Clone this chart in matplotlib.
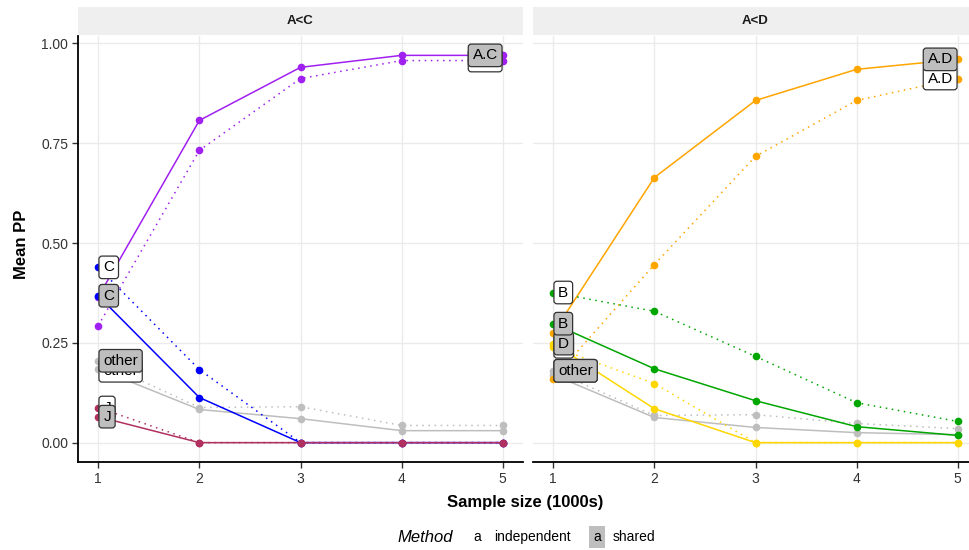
import matplotlib
matplotlib.use("Agg")
import matplotlib.pyplot as plt
from matplotlib.patches import Rectangle

plt.rcParams['font.family'] = ['Liberation Sans', 'DejaVu Sans']

# ---------------- data ----------------
sample_size = [1, 2, 3, 4, 5]
panels = ["A<C", "A<D"]

# panel A<C
AC_shared = [0.365, 0.807, 0.940, 0.970, 0.970]
AC_indep = [0.293, 0.732, 0.912, 0.957, 0.957]
C_shared = [0.368, 0.113, 0.0, 0.0, 0.0]
C_indep = [0.439, 0.183, 0.0, 0.0, 0.0]
otherC_shared = [0.185, 0.083, 0.060, 0.030, 0.030]
otherC_indep = [0.205, 0.088, 0.090, 0.043, 0.043]
J_shared = [0.065, 0.0, 0.0, 0.0, 0.0]
J_indep = [0.088, 0.0, 0.0, 0.0, 0.0]

# panel A<D
AD_shared = [0.275, 0.664, 0.857, 0.935, 0.960]
AD_indep = [0.160, 0.446, 0.717, 0.857, 0.912]
B_shared = [0.298, 0.185, 0.105, 0.040, 0.018]
B_indep = [0.376, 0.329, 0.216, 0.100, 0.053]
D_shared = [0.248, 0.085, 0.0, 0.0, 0.0]
D_indep = [0.240, 0.148, 0.0, 0.0, 0.0]
otherD_shared = [0.170, 0.063, 0.038, 0.025, 0.020]
otherD_indep = [0.180, 0.068, 0.070, 0.048, 0.035]

# (label, colour, independent values, shared values, label side)
series = {
    "A<C": [
        ("other", "#BEBEBE", otherC_indep, otherC_shared, "left"),
        ("A.C", "#A020F0", AC_indep, AC_shared, "right"),
        ("C", "#0000FF", C_indep, C_shared, "left"),
        ("J", "#B03060", J_indep, J_shared, "left"),
    ],
    "A<D": [
        ("other", "#BEBEBE", otherD_indep, otherD_shared, "left"),
        ("A.D", "#FFA500", AD_indep, AD_shared, "right"),
        ("D", "#FFD700", D_indep, D_shared, "left"),
        ("B", "#00A600", B_indep, B_shared, "left"),
    ],
}
# label vertical nudges (pixels) for repelled labels: (indep, shared)
nudges = {("A<C", "other"): (-10, 8), ("A<D", "other"): (0, 4)}

yticks = [0.0, 0.25, 0.50, 0.75, 1.00]
ytick_labels = ["0.00", "0.25", "0.50", "0.75", "1.00"]

# ---------------- figure ----------------
W, H = 969, 550
fig = plt.figure(figsize=(W / 100, H / 100), dpi=100)
fig.patch.set_facecolor("white")


def px_axes(x0, y0, x1, y1):
    return fig.add_axes([x0 / W, 1 - y1 / H, (x1 - x0) / W, (y1 - y0) / H])


panel_px = {"A<C": (78, 523), "A<D": (533, 978)}
top, bottom = 36, 462
grid_col = "#EBEBEB"

for pi, name in enumerate(panels):
    x0, x1 = panel_px[name]
    # strip
    sax = px_axes(x0, 7, x1, 35)
    sax.set_xlim(0, 1); sax.set_ylim(0, 1)
    sax.add_patch(Rectangle((0, 0), 1, 1, facecolor="#EFEFEF", edgecolor="none"))
    sax.axis("off")
    sax.text(0.5, 0.5, name, ha="center", va="center",
             fontsize=9.5, fontweight="bold", color="#1A1A1A")

    ax = px_axes(x0, top, x1, bottom)
    ax.set_xlim(0.8, 5.2)
    ax.set_ylim(-0.0485, 1.0185)
    ax.set_facecolor("white")
    ax.set_yticks(yticks)
    ax.set_xticks(sample_size)
    ax.grid(True, color=grid_col, lw=1.0)
    ax.set_axisbelow(True)
    for s in ["top", "right"]:
        ax.spines[s].set_visible(False)
    ax.spines["bottom"].set_linewidth(1.3)
    ax.spines["bottom"].set_color("black")
    ax.tick_params(axis="both", length=4, width=1.0, color="#333333",
                   labelsize=10, labelcolor="#333333", pad=3)
    ax.set_xticklabels([str(v) for v in sample_size])
    if pi == 0:
        ax.spines["left"].set_linewidth(1.3)
        ax.spines["left"].set_color("black")
        ax.set_yticklabels(ytick_labels)
    else:
        ax.spines["left"].set_visible(False)
        ax.tick_params(axis="y", length=0, labelleft=False)

    for lab, col, vin, vsh, side in series[name]:
        ax.plot(sample_size, vin, color=col, lw=1.1, ls=(0, (1, 3)),
                marker="o", ms=5.5, mec="none", zorder=3)
        ax.plot(sample_size, vsh, color=col, lw=1.1, ls="-",
                marker="o", ms=5.5, mec="none", zorder=3)

    # labels: independent (white) first, shared (grey) on top
    for which, face in [(0, "white"), (1, "#BEBEBE")]:
        for lab, col, vin, vsh, side in series[name]:
            vals = vin if which == 0 else vsh
            dy = nudges.get((name, lab), (0, 0))[which]
            if side == "left":
                xi, dx, ha = 0, 5, "left"
            else:
                xi, dx, ha = -1, -5, "right"
            ax.annotate(lab, xy=(sample_size[xi], vals[xi]), xytext=(dx, dy),
                        textcoords="offset pixels", ha=ha, va="center",
                        fontsize=11, color="black", zorder=6 + which,
                        bbox=dict(boxstyle="round,pad=0.28,rounding_size=0.2",
                                  facecolor=face, edgecolor="#333333", lw=0.9))

# axis titles
fig.text(22 / W, 1 - 244 / H, "Mean PP", rotation=90, ha="center", va="center",
         fontsize=12, fontweight="bold")
fig.text(525 / W, 1 - 502 / H, "Sample size (1000s)", ha="center", va="center",
         fontsize=12, fontweight="bold")

# legend
ly = 1 - 537 / H
fig.text(397 / W, ly, "Method", ha="left", va="center", fontsize=12, style="italic")
fig.text(477 / W, ly, "a", ha="center", va="center", fontsize=10,
         bbox=dict(boxstyle="square,pad=0.3", facecolor="white", edgecolor="none"))
fig.text(494 / W, ly, "independent", ha="left", va="center", fontsize=10)
fig.text(597 / W, ly, "a", ha="center", va="center", fontsize=10,
         bbox=dict(boxstyle="square,pad=0.3", facecolor="#BEBEBE", edgecolor="none"))
fig.text(613 / W, ly, "shared", ha="left", va="center", fontsize=10)

fig.savefig("out.png", dpi=100, facecolor="white")
